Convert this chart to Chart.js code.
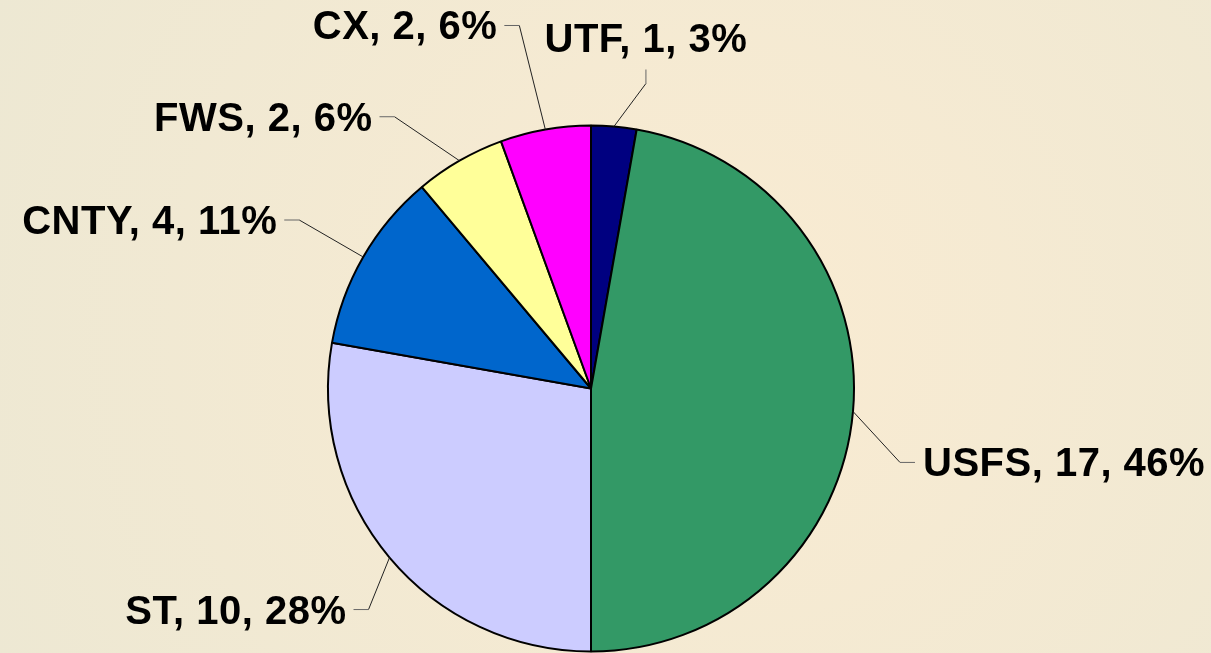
<!DOCTYPE html>
<html>
<head>
<meta charset="utf-8">
<script src="https://cdn.jsdelivr.net/npm/chart.js@4"></script>
<style>
  html, body { margin: 0; padding: 0; background: #f3ead3; }
  #wrap { width: 1211px; height: 653px; position: relative; }
</style>
</head>
<body>
<div id="wrap"><canvas id="pie"></canvas></div>
<script>
// chart data
var categories = ['UTF', 'USFS', 'ST', 'CNTY', 'FWS', 'CX'];
var counts = [1, 17, 10, 4, 2, 2];
var percentLabels = ['3%', '46%', '28%', '11%', '6%', '6%'];

var sliceColors = ['#000080', '#339966', '#ccccff', '#0066cc', '#ffff99', '#ff00ff'];

// leader line layout per slice: elbow offset from the slice edge, then a short tail
var leaders = [
    { dx: 32, dy: -43, tail: 'up' },
    { dx: 47, dy: 51, tail: 'right' },
    { dx: -21, dy: 52, tail: 'left' },
    { dx: -64, dy: -37, tail: 'left' },
    { dx: -65, dy: -44, tail: 'left' },
    { dx: -26, dy: -104, tail: 'left' }
];

var backgroundPlugin = {
    id: 'bg',
    beforeDraw: function (chart) {
        var ctx = chart.ctx;
        var g = ctx.createRadialGradient(720, 330, 40, 720, 330, 800);
        g.addColorStop(0, '#f9ebd2');
        g.addColorStop(1, '#ede8d3');
        ctx.save();
        ctx.fillStyle = g;
        ctx.fillRect(0, 0, chart.width, chart.height);
        ctx.restore();
    }
};

var labelPlugin = {
    id: 'leaderLabels',
    afterDatasetsDraw: function (chart) {
        var ctx = chart.ctx;
        var arcs = chart.getDatasetMeta(0).data;
        ctx.save();
        ctx.font = 'bold 40px "Liberation Sans", Arial, sans-serif';
        ctx.letterSpacing = '0.5px';
        ctx.fillStyle = '#000';
        arcs.forEach(function (arc, i) {
            var p = arc.getProps(['x', 'y', 'startAngle', 'endAngle', 'outerRadius'], true);
            var mid = (p.startAngle + p.endAngle) / 2;
            var ax = p.x + Math.cos(mid) * p.outerRadius;
            var ay = p.y + Math.sin(mid) * p.outerRadius;
            var L = leaders[i];
            var ex = ax + L.dx, ey = ay + L.dy;
            var tx = ex, ty = ey;
            if (L.tail === 'left') tx = ex - 15;
            if (L.tail === 'right') tx = ex + 15;
            if (L.tail === 'up') ty = ey - 14;

            ctx.strokeStyle = '#222';
            ctx.lineWidth = 1;
            ctx.beginPath();
            ctx.moveTo(ax, ay);
            ctx.lineTo(ex, ey);
            ctx.stroke();
            ctx.strokeStyle = '#666';
            ctx.beginPath();
            ctx.moveTo(ex, ey);
            ctx.lineTo(tx, ty);
            ctx.stroke();

            var text = categories[i] + ', ' + counts[i] + ', ' + percentLabels[i];
            ctx.textBaseline = 'alphabetic';
            if (L.tail === 'left') {
                ctx.textAlign = 'right';
                ctx.fillText(text, tx - 7, ty + 14);
            } else if (L.tail === 'right') {
                ctx.textAlign = 'left';
                ctx.fillText(text, tx + 8, ty + 14);
            } else {
                ctx.textAlign = 'center';
                ctx.fillText(text, tx, ty - 18);
            }
        });
        ctx.restore();
    }
};

var pieChart = new Chart(document.getElementById('pie').getContext('2d'), {
    type: 'pie',
    data: {
        labels: categories,
        datasets: [
            {
                data: counts,
                backgroundColor: sliceColors,
                borderColor: '#000',
                borderWidth: 2
            }
        ]
    },
    options: {
        responsive: true,
        maintainAspectRatio: false,
        animation: false,
        layout: {
            padding: { left: 327, right: 356, top: 124, bottom: -1 }
        },
        plugins: {
            legend: { display: false },
            tooltip: { enabled: false }
        }
    },
    plugins: [backgroundPlugin, labelPlugin]
});
</script>
</body>
</html>
